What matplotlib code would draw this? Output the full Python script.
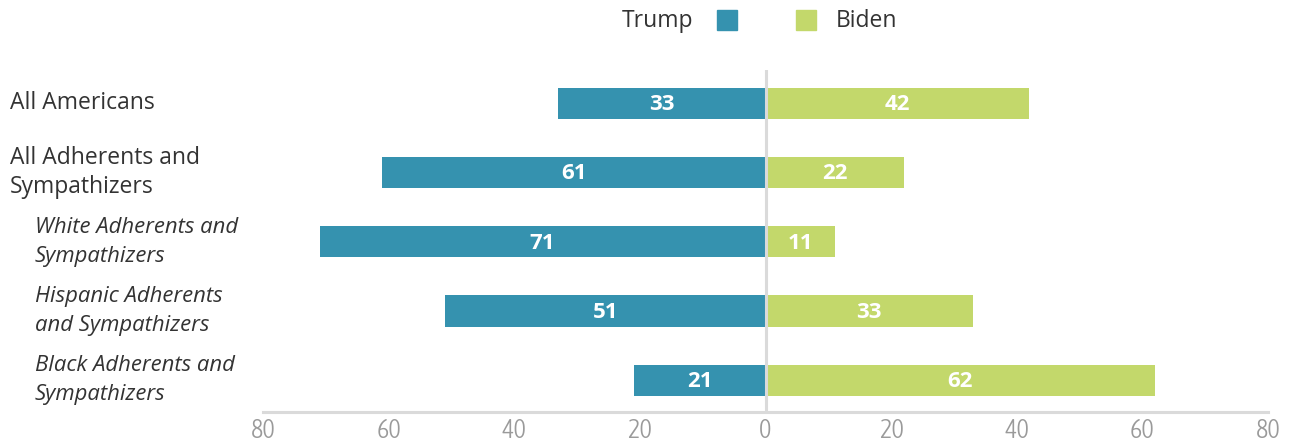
import matplotlib
matplotlib.use("Agg")
import matplotlib.pyplot as plt
from matplotlib.patches import Rectangle
from matplotlib import font_manager

categories = [
    "All Americans",
    "All Adherents and\nSympathizers",
    "White Adherents and\nSympathizers",
    "Hispanic Adherents\nand Sympathizers",
    "Black Adherents and\nSympathizers",
]
italic_rows = [False, False, True, True, True]
trump = [33, 61, 71, 51, 21]
biden = [42, 22, 11, 33, 62]
tick_values = [-80, -60, -40, -20, 0, 20, 40, 60, 80]
tick_labels = ["80", "60", "40", "20", "0", "20", "40", "60", "80"]

TEAL = "#3592AF"
GREEN = "#C3D86B"
GRID = "#DADADA"
TEXT = "#333333"


def light_condensed_font():
    """Pick a light, narrow face for the axis numbers if one is installed."""
    best = None
    for f in font_manager.fontManager.ttflist:
        narrow = f.stretch in ("condensed", "semi-condensed", "extra-condensed") \
            or "Condensed" in f.name or "Narrow" in f.name
        w = f.weight if isinstance(f.weight, int) else 400
        if narrow and f.style == "normal" and w <= 400:
            score = abs(w - 300)
            if best is None or score < best[0]:
                best = (score, f.fname)
    return font_manager.FontProperties(fname=best[1]) if best else \
        font_manager.FontProperties(family="DejaVu Sans", stretch="condensed")


W, H = 1291, 447
fig = plt.figure(figsize=(W / 100, H / 100), dpi=100)
ax = fig.add_axes([263 / W, 1 - 412 / H, (1268 - 263) / W, (412 - 70) / H])

rows = list(range(len(categories)))
bar_h = 0.45
ax.barh(rows, [-v for v in trump], height=bar_h, color=TEAL, zorder=2)
ax.barh(rows, biden, height=bar_h, color=GREEN, zorder=2)

for r, t, b in zip(rows, trump, biden):
    ax.text(-t / 2, r + 0.02, str(t), ha="center", va="center", color="white",
            fontsize=16, fontweight="bold", family="Open Sans", zorder=3)
    ax.text(b / 2, r + 0.02, str(b), ha="center", va="center", color="white",
            fontsize=16, fontweight="bold", family="Open Sans", zorder=3)

ax.axvline(0, color=GRID, lw=2.2, zorder=4)
ax.set_xlim(-80, 80)
ax.set_ylim(4.46, -0.48)

for s in ["top", "right", "left"]:
    ax.spines[s].set_visible(False)
ax.spines["bottom"].set_color(GRID)
ax.spines["bottom"].set_linewidth(2.2)
ax.set_yticks([])
ax.set_xticks(tick_values)
tick_font = light_condensed_font()
tick_font.set_size(19)
ax.set_xticklabels(tick_labels, fontproperties=tick_font, color="#9A9A9A")
ax.tick_params(axis="x", length=0, pad=4)

# Category labels on the left, subgroups indented and italic
for r, name, it in zip(rows, categories, italic_rows):
    x_px = 35 if it else 10
    y_fig = ax.transData.transform((0, r))[1]
    fig.text(x_px / W, y_fig / H, name, ha="left", va="center",
             fontsize=15.9 if it else 16.5, family="Open Sans", color=TEXT,
             style="italic" if it else "normal",
             linespacing=1.48 if it else 1.3)

# Legend
fig.text(693 / W, 1 - 21 / H, "Trump", ha="right", va="center",
         fontsize=16.5, family="Open Sans", color=TEXT)
fig.patches.append(Rectangle((717 / W, 1 - 30 / H), 20 / W, 20 / H,
                             transform=fig.transFigure, color=TEAL))
fig.patches.append(Rectangle((796 / W, 1 - 30 / H), 20 / W, 20 / H,
                             transform=fig.transFigure, color=GREEN))
fig.text(836 / W, 1 - 21 / H, "Biden", ha="left", va="center",
         fontsize=16.5, family="Open Sans", color=TEXT)

fig.savefig("out.png", dpi=100, facecolor="white")
